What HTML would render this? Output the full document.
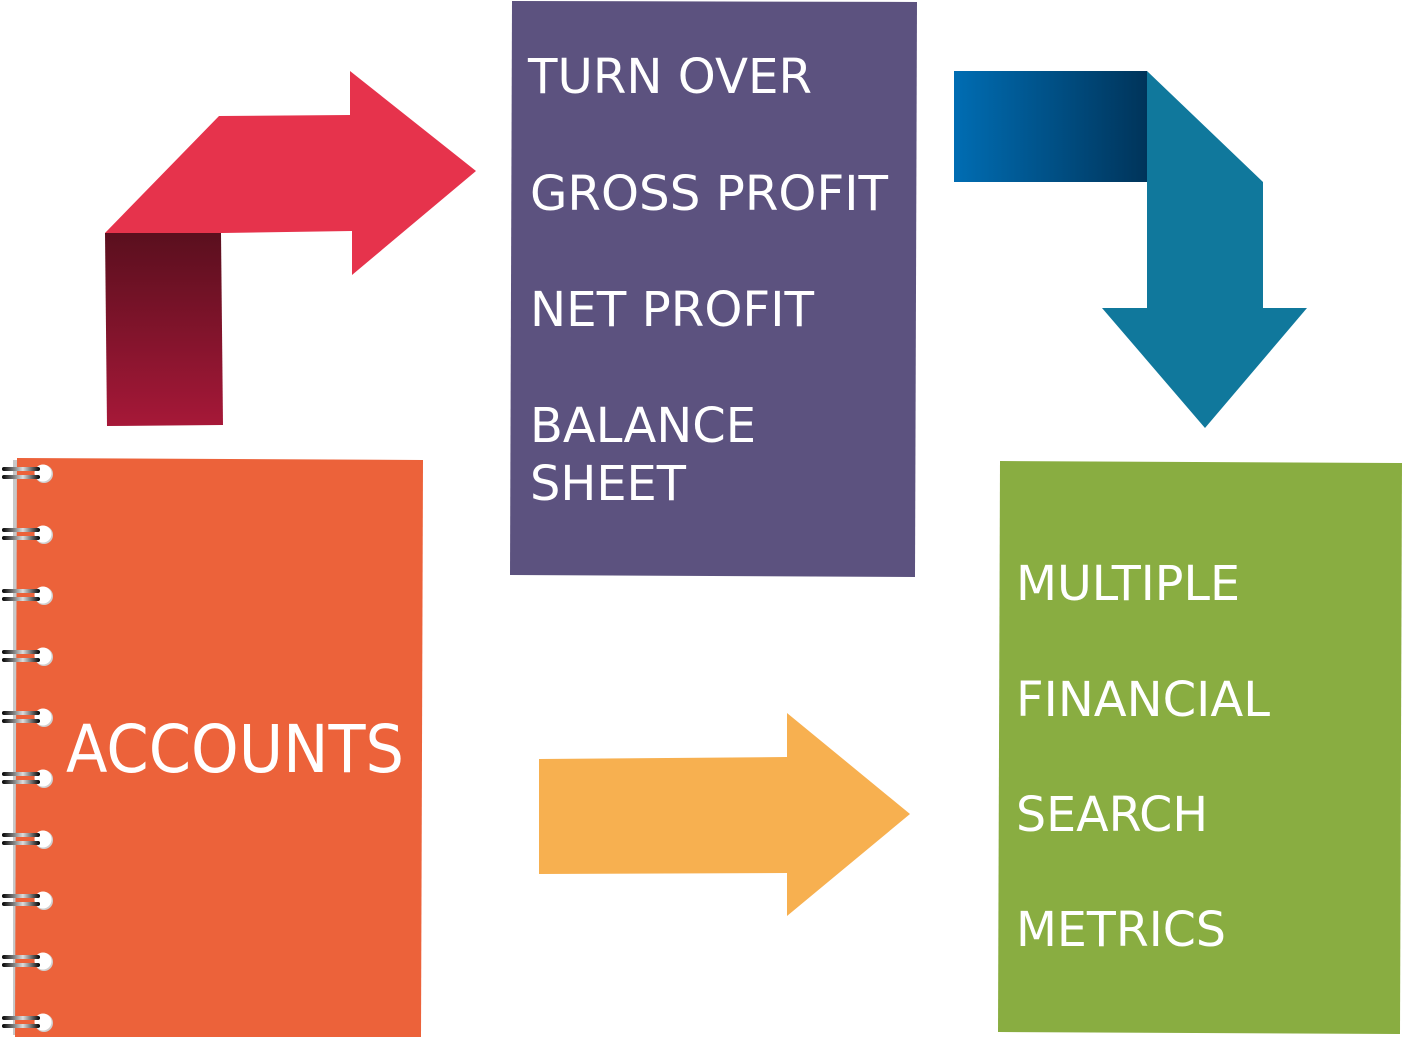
<!DOCTYPE html>
<html><head><meta charset="utf-8"><style>html,body{margin:0;padding:0;background:#fff}svg{display:block}</style></head>
<body>
<svg width="1402" height="1037" viewBox="0 0 1402 1037" xmlns="http://www.w3.org/2000/svg" font-family="'DejaVu Sans','Liberation Sans',sans-serif">
<defs>
<linearGradient id="dr" x1="0" y1="0" x2="0" y2="1"><stop offset="0" stop-color="#5a0f1e"/><stop offset="1" stop-color="#a61838"/></linearGradient>
<linearGradient id="bl" x1="0" y1="0" x2="1" y2="0"><stop offset="0" stop-color="#006db3"/><stop offset="1" stop-color="#00345a"/></linearGradient>
<linearGradient id="ring" x1="0" y1="0" x2="1" y2="0"><stop offset="0" stop-color="#000"/><stop offset="0.55" stop-color="#ddd"/><stop offset="1" stop-color="#000"/></linearGradient>
</defs>
<polygon points="105,233 219,116 350,115 350,71 476,171 352,275 352,231 222,233" fill="#e6334c"/>
<polygon points="105,233 221,233 223,425 107,426" fill="url(#dr)"/>
<polygon points="512,1 917,2 915,577 510,575" fill="#5c527f"/>
<g fill="#fff" font-size="48">
<text x="528" y="93" textLength="284" lengthAdjust="spacingAndGlyphs">TURN OVER</text>
<text x="530" y="210" textLength="358" lengthAdjust="spacingAndGlyphs">GROSS PROFIT</text>
<text x="530" y="326" textLength="284" lengthAdjust="spacingAndGlyphs">NET PROFIT</text>
<text x="530" y="442" textLength="226" lengthAdjust="spacingAndGlyphs">BALANCE</text>
<text x="530" y="500" textLength="156" lengthAdjust="spacingAndGlyphs">SHEET</text>
</g>
<rect x="954" y="71" width="193" height="111" fill="url(#bl)"/>
<polygon points="1147,71 1263,182 1263,308 1307,308 1205,428 1102,308 1147,308" fill="#10789c"/>
<polygon points="539,759 787,757 787,713 910,814 787,916 787,873 539,874" fill="#f7b050"/>
<polygon points="1000,461 1402,463 1400,1034 998,1032" fill="#89ad41"/>
<g fill="#fff" font-size="48">
<text x="1016" y="600" textLength="224" lengthAdjust="spacingAndGlyphs">MULTIPLE</text>
<text x="1016" y="716" textLength="254" lengthAdjust="spacingAndGlyphs">FINANCIAL</text>
<text x="1016" y="831" textLength="192" lengthAdjust="spacingAndGlyphs">SEARCH</text>
<text x="1016" y="946" textLength="210" lengthAdjust="spacingAndGlyphs">METRICS</text>
</g>
<rect x="13" y="460" width="4" height="575" fill="#c8c8c8"/>
<polygon points="17,458 423,460 421,1037 15,1037" fill="#ec623a"/>
<text x="66" y="772" fill="#fff" font-size="66" textLength="338" lengthAdjust="spacingAndGlyphs">ACCOUNTS</text>
<g id="rings">
<g transform="translate(0,473)">
<circle cx="44" cy="1" r="9" fill="#d0d0d0"/><circle cx="43" cy="0" r="8.5" fill="#fff"/>
<rect x="2" y="-6" width="38" height="4" rx="2" fill="url(#ring)"/>
<rect x="2" y="2" width="38" height="4" rx="2" fill="url(#ring)"/>
</g>
</g>
<use href="#rings" y="61"/><use href="#rings" y="122"/><use href="#rings" y="183"/><use href="#rings" y="244"/><use href="#rings" y="305"/><use href="#rings" y="366"/><use href="#rings" y="427"/><use href="#rings" y="488"/><use href="#rings" y="549"/>
</svg>
</body></html>
